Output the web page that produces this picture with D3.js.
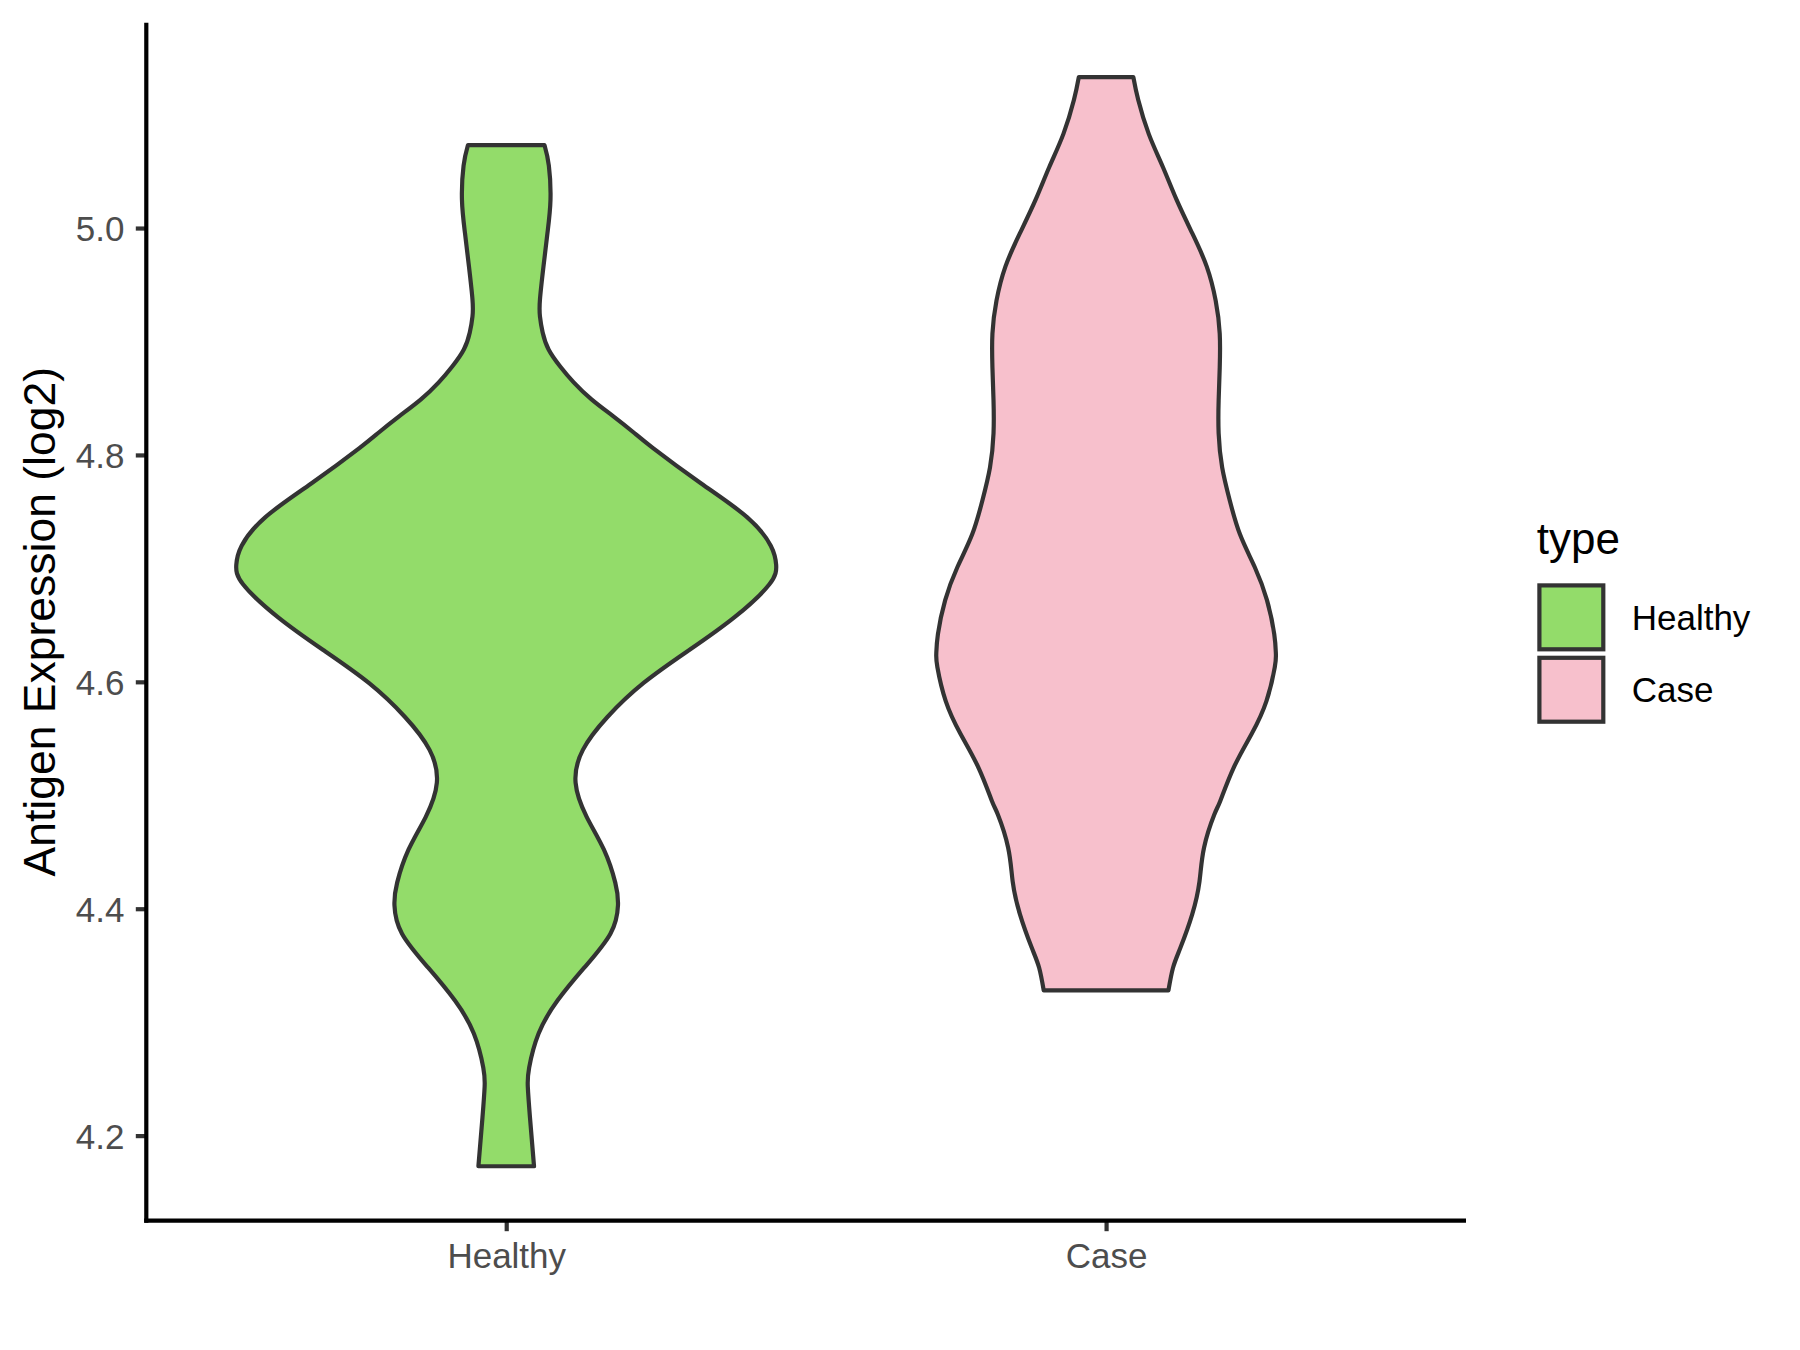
<!DOCTYPE html>
<html>
<head>
<meta charset="utf-8">
<script src="https://cdn.jsdelivr.net/npm/d3@7/dist/d3.min.js"></script>
<style>
  html, body { margin: 0; padding: 0; background: #ffffff; }
  svg { display: block; }
  text { font-family: "Liberation Sans", Arial, Helvetica, sans-serif; }
</style>
</head>
<body>
<svg id="chart" width="1800" height="1350"></svg>
<script>
// ---------------- data ----------------
const categories = ["Healthy", "Case"];
const fillColors = ["#93DC6A", "#F7C0CC"];

// Healthy violin outline: expression level and relative half-width (density, max = 1)
const healthyLevels = [5.073, 5.055, 5.025, 4.996, 4.966, 4.937, 4.922, 4.908, 4.893, 4.878,
  4.864, 4.849, 4.834, 4.820, 4.806, 4.775, 4.745, 4.720, 4.703, 4.686,
  4.657, 4.628, 4.599, 4.569, 4.540, 4.511, 4.481, 4.452, 4.423, 4.403,
  4.378, 4.348, 4.319, 4.290, 4.260, 4.243, 4.216, 4.173];
const healthyDensity = [0.142, 0.158, 0.164, 0.153, 0.138, 0.125, 0.125, 0.135, 0.157, 0.200,
  0.250, 0.316, 0.397, 0.471, 0.544, 0.721, 0.893, 0.980, 1.000, 0.975,
  0.846, 0.678, 0.509, 0.375, 0.284, 0.257, 0.298, 0.362, 0.404, 0.414,
  0.386, 0.289, 0.190, 0.120, 0.085, 0.080, 0.088, 0.103];

// Case violin outline
const caseLevels = [5.133, 5.113, 5.083, 5.054, 5.025, 4.995, 4.966, 4.936, 4.907, 4.877,
  4.848, 4.819, 4.789, 4.760, 4.730, 4.701, 4.672, 4.642, 4.625, 4.613,
  4.583, 4.554, 4.524, 4.495, 4.483, 4.454, 4.424, 4.395, 4.366, 4.348, 4.328];
const caseDensity = [0.101, 0.119, 0.158, 0.210, 0.261, 0.320, 0.373, 0.406, 0.421, 0.421,
  0.417, 0.417, 0.430, 0.458, 0.496, 0.551, 0.596, 0.623, 0.629, 0.625,
  0.594, 0.539, 0.472, 0.423, 0.401, 0.363, 0.346, 0.319, 0.276, 0.248, 0.231];

const yTicks = [4.2, 4.4, 4.6, 4.8, 5.0];
const yTitle = "Antigen Expression (log2)";
const legendTitle = "type";

// ---------------- layout ----------------
const svg = d3.select("#chart");
const panel = { left: 146.3, right: 1466, top: 22.7, bottom: 1220.7 };
const lineW = 4.2;
const outline = "#333333";

const allLevels = healthyLevels.concat(caseLevels);
const lo = d3.min(allLevels), hi = d3.max(allLevels);
const pad = (hi - lo) * 0.05;

const y = d3.scaleLinear().domain([lo - pad, hi + pad]).range([panel.bottom, panel.top]);
const x = d3.scalePoint().domain(categories).range([panel.left, panel.right]).padding(0.6);
const halfMax = 0.45 * x.step();

const groups = [
  { name: "Healthy", levels: healthyLevels, dens: healthyDensity, fill: fillColors[0] },
  { name: "Case", levels: caseLevels, dens: caseDensity, fill: fillColors[1] }
];

// ---------------- violins ----------------
groups.forEach(g => {
  const cx = x(g.name);
  const pts = g.levels.map((v, i) => ({ v: v, d: g.dens[i] }));
  const area = d3.area()
    .y(d => y(d.v))
    .x0(d => cx - d.d * halfMax)
    .x1(d => cx + d.d * halfMax)
    .curve(d3.curveNatural);
  svg.append("path")
    .attr("d", area(pts))
    .attr("fill", g.fill)
    .attr("stroke", outline)
    .attr("stroke-width", lineW)
    .attr("stroke-linejoin", "round");
});

// ---------------- axes ----------------
const yAxis = d3.axisLeft(y).tickValues(yTicks).tickFormat(d3.format(".1f"))
  .tickSize(10.5).tickPadding(11.4);
const gy = svg.append("g").attr("transform", `translate(${panel.left},0)`).call(yAxis);
gy.select(".domain").remove();
gy.selectAll(".tick line").attr("stroke", outline).attr("stroke-width", lineW);
gy.selectAll(".tick text").attr("fill", "#4D4D4D").attr("font-size", 35).attr("dy", "0.36em");

const xAxis = d3.axisBottom(x).tickSize(10.5).tickPadding(12.2);
const gx = svg.append("g").attr("transform", `translate(0,${panel.bottom})`).call(xAxis);
gx.select(".domain").remove();
gx.selectAll(".tick line").attr("stroke", outline).attr("stroke-width", lineW);
gx.selectAll(".tick text").attr("fill", "#4D4D4D").attr("font-size", 35).attr("dy", "0.71em");

// axis lines
svg.append("line")
  .attr("x1", panel.left).attr("x2", panel.left)
  .attr("y1", panel.top).attr("y2", panel.bottom + lineW / 2)
  .attr("stroke", "#000").attr("stroke-width", lineW);
svg.append("line")
  .attr("x1", panel.left - lineW / 2).attr("x2", panel.right)
  .attr("y1", panel.bottom).attr("y2", panel.bottom)
  .attr("stroke", "#000").attr("stroke-width", lineW);

// y title
svg.append("text")
  .attr("transform", `translate(55,${(panel.top + panel.bottom) / 2}) rotate(-90)`)
  .attr("text-anchor", "middle")
  .attr("font-size", 44.5)
  .attr("fill", "#000")
  .text(yTitle);

// ---------------- legend ----------------
const lg = svg.append("g");
lg.append("text").attr("x", 1536.7).attr("y", 554.3)
  .attr("font-size", 44).attr("fill", "#000").text(legendTitle);
const keyTop = 585.4, keyStep = 72.4, keyLeft = 1539.4, keySize = 63.9;
groups.forEach((g, i) => {
  lg.append("rect")
    .attr("x", keyLeft).attr("y", keyTop + i * keyStep)
    .attr("width", keySize).attr("height", keySize)
    .attr("fill", g.fill).attr("stroke", outline).attr("stroke-width", lineW);
  lg.append("text")
    .attr("x", 1631.7).attr("y", keyTop + i * keyStep + keySize / 2 + 12.5)
    .attr("font-size", 35).attr("fill", "#000").text(g.name);
});
</script>
</body>
</html>
